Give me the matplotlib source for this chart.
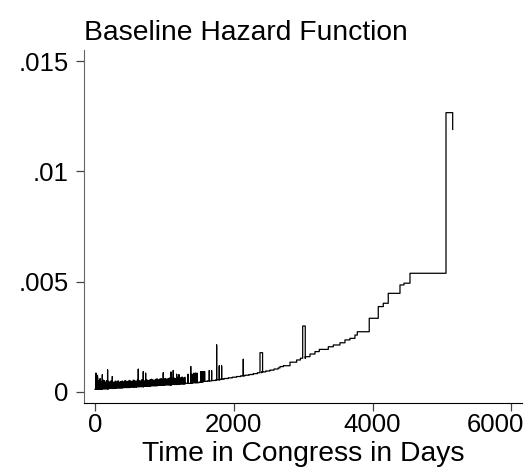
import numpy as np
import matplotlib.pyplot as plt
from matplotlib.transforms import ScaledTranslation

plt.rcParams['font.family'] = ['Liberation Sans', 'DejaVu Sans']

# baseline hazard (lower envelope), step function, hazard in 1e-3 units
base_t = [0, 100, 200, 300, 400, 500, 600, 700, 800, 900, 1000, 1100, 1200,
          1300, 1400, 1500, 1560, 1620, 1680, 1740, 1800, 1860, 1920, 1980,
          2040, 2100, 2160, 2220, 2280, 2340, 2400, 2460, 2520, 2580, 2640,
          2666, 2713, 2810, 2906, 2960, 3030, 3098, 3170, 3232, 3362, 3434,
          3530, 3602, 3674, 3746, 3780, 3952, 4082, 4154, 4226, 4395, 4452, 4539]
base_h = [0.12, 0.14, 0.16, 0.18, 0.20, 0.22, 0.24, 0.26, 0.28, 0.30, 0.32, 0.34, 0.36,
          0.39, 0.42, 0.45, 0.48, 0.50, 0.52, 0.55, 0.58, 0.61, 0.64, 0.67,
          0.70, 0.73, 0.76, 0.79, 0.83, 0.87, 0.91, 0.95, 0.99, 1.04, 1.09,
          1.15, 1.19, 1.35, 1.45, 1.53, 1.60, 1.72, 1.83, 1.93, 2.05, 2.13,
          2.23, 2.36, 2.43, 2.58, 2.73, 3.34, 3.87, 4.02, 4.47, 4.85, 4.93, 5.38]

# dense band of small jumps in the early period
band_t = list(range(10, 1300, 20))
band_h = [0.57, 0.65, 0.50, 0.60, 0.46, 0.54, 0.51, 0.44, 0.52, 0.48,
          0.44, 0.50, 0.46, 0.43, 0.49, 0.45, 0.50, 0.44, 0.47, 0.49,
          0.45, 0.51, 0.48, 0.46, 0.52, 0.49, 0.47, 0.53, 0.50, 0.48,
          0.54, 0.51, 0.49, 0.55, 0.52, 0.50, 0.56, 0.53, 0.51, 0.55,
          0.57, 0.54, 0.52, 0.57, 0.59, 0.55, 0.58, 0.60, 0.56, 0.58,
          0.61, 0.57, 0.60, 0.63, 0.59, 0.61, 0.64, 0.60, 0.62, 0.66,
          0.62, 0.64, 0.67, 0.63, 0.66]

# taller spikes: start day, end day, height
spike_t0 = [14, 36, 106, 182, 250, 624, 696, 730, 984, 1095, 1128, 1177, 1210,
            1340, 1380, 1400, 1425, 1450, 1470, 1523, 1540, 1560, 1580, 1647, 1681,
            1753, 1791, 1825, 2137, 2378, 2993]
spike_t1 = [14, 36, 106, 182, 250, 624, 696, 730, 984, 1095, 1128, 1177, 1210,
            1340, 1380, 1400, 1425, 1450, 1470, 1523, 1540, 1560, 1580, 1647, 1681,
            1753, 1791, 1825, 2137, 2415, 3030]
spike_h = [0.85, 0.75, 0.78, 1.00, 0.70, 1.03, 0.92, 0.85, 0.87, 0.90, 0.97, 0.80, 0.78,
           0.80, 1.15, 0.80, 0.85, 0.85, 0.85, 0.92, 0.92, 0.92, 0.92, 0.97, 0.97,
           2.13, 1.18, 1.18, 1.48, 1.78, 2.99]

# last jump at the end of follow-up
end_t = [5058, 5154]
end_h = [12.66, 11.90]

base_t_arr = np.array(base_t)


def base_at(t):
    i = np.searchsorted(base_t_arr, t, side='right') - 1
    return base_h[max(i, 0)]


blocks = []
for i, t in enumerate(base_t):
    prev = base_h[i - 1] if i > 0 else base_h[0]
    blocks.append((t, [t, t], [prev, base_h[i]]))
for t, h in zip(band_t, band_h):
    # narrow up-and-down jumps, drawn as thin boxes
    blocks.append((t, [t, t, t + 9, t + 9], [base_at(t), h, h, base_at(t + 9)]))
for t0, t1, h in zip(spike_t0, spike_t1, spike_h):
    blocks.append((t0, [t0, t0, t1, t1], [base_at(t0), h, h, base_at(t1)]))
blocks.sort(key=lambda b: b[0])

xs, ys = [], []
for _, bx, by in blocks:
    xs += bx
    ys += by
xs += [end_t[0], end_t[0], end_t[1], end_t[1]]
ys += [base_h[-1], end_h[0], end_h[0], end_h[1]]
ys = np.array(ys) / 1000.0

fig = plt.figure(figsize=(5.31, 4.75), dpi=100)
ax = fig.add_axes([84 / 531, 1 - 403 / 475, (522 - 84) / 531, (403 - 50) / 475])
ax.plot(xs, ys, color='black', lw=0.9)

ax.set_xlim(-158, 6153)
ax.set_ylim(-0.0005, 0.0155)
ax.set_xticks([0, 2000, 4000, 6000])
ax.set_yticks([0, 0.005, 0.01, 0.015])
ax.set_yticklabels(['0', '.005', '.01', '.015'])
for s in ['top', 'right']:
    ax.spines[s].set_visible(False)
ax.spines['left'].set_color('#666666')
ax.spines['bottom'].set_color('black')
ax.tick_params(axis='both', labelsize=18.5, length=6, color='#444444', width=0.9)
ax.tick_params(axis='y', pad=5)
ax.tick_params(axis='x', pad=1)
lab = ax.get_xticklabels()[-1]
lab.set_transform(lab.get_transform() + ScaledTranslation(-0.16, 0, fig.dpi_scale_trans))

ax.set_xlabel('Time in Congress in Days', fontsize=20.3, labelpad=3)
ax.set_title('Baseline Hazard Function', fontsize=20.3, loc='left', pad=7, x=0.0)

fig.savefig('out.png', dpi=100)
